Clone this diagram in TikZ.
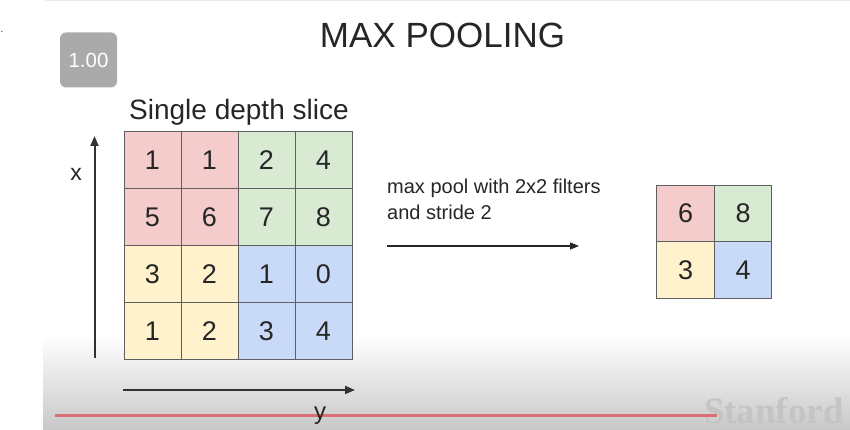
\documentclass[tikz,border=0pt]{standalone}
\usepackage{fontspec}
\setmainfont{Liberation Sans}
\newfontfamily\wmfont{Liberation Serif}
\usetikzlibrary{arrows.meta}
\definecolor{cred}{RGB}{244,204,204}
\definecolor{cgreen}{RGB}{217,234,211}
\definecolor{cyellow}{RGB}{255,242,204}
\definecolor{cblue}{RGB}{201,218,248}
\definecolor{gridline}{RGB}{95,95,95}
\definecolor{axiscol}{RGB}{50,50,50}
\definecolor{badgegray}{RGB}{170,170,170}
\definecolor{redline}{RGB}{222,110,118}
\definecolor{wmgray}{RGB}{196,196,196}
\definecolor{bggray}{RGB}{200,200,200}
\definecolor{dotblue}{RGB}{30,30,120}
\begin{document}
\begin{tikzpicture}[x=1pt,y=-1pt,
  cell/.style={draw=gridline, line width=0.9pt, minimum width=57pt, minimum height=57pt, inner sep=0pt, font=\fontsize{27}{30}\selectfont, text=black!85},
  ocell/.style={draw=gridline, line width=0.9pt, minimum width=57.5pt, minimum height=56.5pt, inner sep=0pt, font=\fontsize{27}{30}\selectfont, text=black!85},
  axis/.style={draw=axiscol, line width=2pt, -{Triangle[length=10pt,width=8pt]}},
  lbl/.style={inner sep=0pt, text=black!85}
]
\useasboundingbox (0,0) rectangle (850,430);
\fill[white] (0,0) rectangle (850,430);
\shade[top color=white, bottom color=bggray] (43,335) rectangle (850,430);
\draw[black!8] (45,0.5) -- (850,0.5);
% stray dot
\node[lbl, text=dotblue, font=\fontsize{10}{12}\selectfont] (dot) at (2,32) {.};
% badge
\node[fill=badgegray, rounded corners=6pt, minimum width=57pt, minimum height=55pt, inner sep=0pt, text=white, font=\fontsize{20.5}{24}\selectfont] (badge) at (88.5,60) {1.00};
% title
\node[lbl, font=\fontsize{35}{40}\selectfont, anchor=base] (title) at (442.5,48) {MAX POOLING};
\node[lbl, font=\fontsize{28}{32}\selectfont, anchor=base west] (slice) at (129,120) {Single depth slice};
% input grid
\node[cell, fill=cred]    (a11) at (152.5,160) {1};
\node[cell, fill=cred]    (a12) at (209.5,160) {1};
\node[cell, fill=cgreen]  (a13) at (266.5,160) {2};
\node[cell, fill=cgreen]  (a14) at (323.5,160) {4};
\node[cell, fill=cred]    (a21) at (152.5,217) {5};
\node[cell, fill=cred]    (a22) at (209.5,217) {6};
\node[cell, fill=cgreen]  (a23) at (266.5,217) {7};
\node[cell, fill=cgreen]  (a24) at (323.5,217) {8};
\node[cell, fill=cyellow] (a31) at (152.5,274) {3};
\node[cell, fill=cyellow] (a32) at (209.5,274) {2};
\node[cell, fill=cblue]   (a33) at (266.5,274) {1};
\node[cell, fill=cblue]   (a34) at (323.5,274) {0};
\node[cell, fill=cyellow] (a41) at (152.5,331) {1};
\node[cell, fill=cyellow] (a42) at (209.5,331) {2};
\node[cell, fill=cblue]   (a43) at (266.5,331) {3};
\node[cell, fill=cblue]   (a44) at (323.5,331) {4};
% output grid
\node[ocell, fill=cred]    (b11) at (685.5,213.5) {6};
\node[ocell, fill=cgreen]  (b12) at (743,213.5) {8};
\node[ocell, fill=cyellow] (b21) at (685.5,270) {3};
\node[ocell, fill=cblue]   (b22) at (743,270) {4};
% description and arrow
\node[lbl, font=\fontsize{20}{26}\selectfont, align=left, anchor=north west] (desc) at (387,179) {max pool with 2x2 filters\\and stride 2};
\coordinate (p0) at (387,246);
\coordinate (p1) at (579,246);
\draw[draw=black!85, line width=1.3pt, -{Triangle[length=9pt,width=7pt]}] (p0) -- (p1);
% axes
\coordinate (xa0) at (94.5,358);
\coordinate (xa1) at (94.5,136);
\draw[axis] (xa0) -- (xa1);
\node[lbl, font=\fontsize{23}{26}\selectfont] (xl) at (76,174) {x};
\coordinate (ya0) at (123,390);
\coordinate (ya1) at (355,390);
\draw[axis] (ya0) -- (ya1);
% watermark
\node[lbl, text=wmgray, font=\wmfont\bfseries\fontsize{37}{40}\selectfont, anchor=base east] (wm) at (844,423) {Stanford};
% red line
\coordinate (r0) at (55,415.5);
\coordinate (r1) at (717,415.5);
\draw[redline, line width=3pt] (r0) -- (r1);
\node[lbl, font=\fontsize{24}{28}\selectfont, anchor=base] (yl) at (320,419) {y};
\end{tikzpicture}
\end{document}
